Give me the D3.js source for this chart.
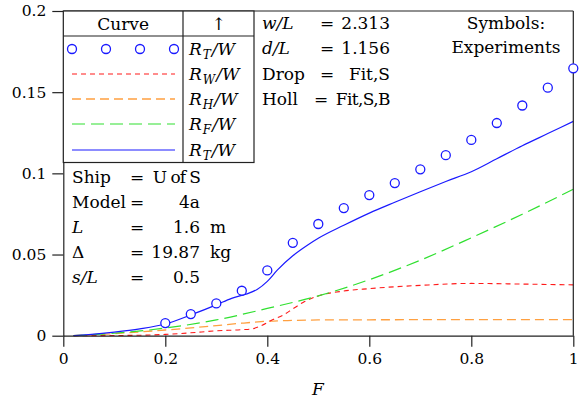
<!DOCTYPE html>
<html><head><meta charset="utf-8">
<script src="https://cdn.jsdelivr.net/npm/d3@7"></script>
<style>
body{margin:0;background:#fff}
svg{display:block}
text{font-family:"DejaVu Serif",serif;fill:#000}
</style>
</head><body>
<svg id="c" width="583" height="405"></svg>
<script>
// ---- data ----
const xTicks = [0, 0.2, 0.4, 0.6, 0.8, 1];
const xTickLabels = ["0", "0.2", "0.4", "0.6", "0.8", "1"];
const yTicks = [0, 0.05, 0.1, 0.15, 0.2];
const yTickLabels = ["0", "0.05", "0.1", "0.15", "0.2"];

// experiments R_T/W
const expF  = [0.2, 0.25, 0.3, 0.35, 0.4, 0.45, 0.5, 0.55, 0.6, 0.65, 0.7, 0.75, 0.8, 0.85, 0.9, 0.95, 1.0];
const expRT = [0.0078, 0.0133, 0.0199, 0.0277, 0.0402, 0.0572, 0.0688, 0.0786, 0.0866, 0.0940, 0.1025, 0.1112, 0.1206, 0.1310, 0.1418, 0.1528, 0.1647];

// theory R_T/W
const rtF = [0.02, 0.05, 0.1, 0.15, 0.2, 0.25, 0.3, 0.33, 0.36, 0.38, 0.4, 0.42, 0.45, 0.48, 0.5, 0.55, 0.6, 0.65, 0.7, 0.75, 0.8, 0.85, 0.9, 0.95, 1.0];
const rtV = [0, 0.0007, 0.0022, 0.0042, 0.0072, 0.0128, 0.019, 0.023, 0.0258, 0.0285, 0.0335, 0.0405, 0.0492, 0.0560, 0.0600, 0.0680, 0.0755, 0.0822, 0.0887, 0.0950, 0.1010, 0.1090, 0.1170, 0.1245, 0.1320];

// R_W/W
const rwF = [0.02, 0.1, 0.15, 0.2, 0.25, 0.3, 0.35, 0.37, 0.39, 0.41, 0.43, 0.45, 0.47, 0.5, 0.55, 0.6, 0.7, 0.8, 0.9, 1.0];
const rwV = [0, 0.0001, 0.0003, 0.0008, 0.0018, 0.003, 0.0037, 0.0042, 0.0065, 0.0098, 0.0125, 0.0165, 0.0205, 0.0245, 0.0275, 0.029, 0.031, 0.0322, 0.0318, 0.0313];

// R_H/W
const rhF = [0.02, 0.1, 0.2, 0.3, 0.35, 0.4, 0.45, 0.5, 0.6, 0.8, 1.0];
const rhV = [0, 0.0013, 0.0035, 0.0062, 0.0077, 0.0089, 0.0094, 0.0097, 0.0098, 0.0099, 0.0099];

// R_F/W
const rfF = [0.02, 0.1, 0.2, 0.3, 0.4, 0.5, 0.6, 0.7, 0.8, 0.9, 1.0];
const rfV = [0, 0.0015, 0.0047, 0.0097, 0.0168, 0.0245, 0.0345, 0.0465, 0.0603, 0.0748, 0.0902];

// info texts
const infoLeftLabels = ["Ship", "Model", "L", "Δ", "s/L"];
const infoLeftValues = ["U of S", "4a", "1.6", "19.87", "0.5"];
const infoLeftUnits  = ["", "", "m", "kg", ""];
const infoRightLabels = ["w/L", "d/L", "Drop", "Holl"];
const infoRightValues = ["2.313", "1.156", "Fit,S", "Fit,S,B"];

// ---- chart ----
const svg = d3.select("#c");
const X0 = 63.3, X1 = 573.3, Y0 = 335.7, Y1 = 11;
const FS = "17px";
const x = d3.scaleLinear().domain([0, 1]).range([X0, X1]);
const y = d3.scaleLinear().domain([0, 0.2]).range([Y0, Y1]);

const styles = {
  rw: {color: "#ff1a1a", dash: "5,4", w: 1.1},
  rh: {color: "#ffa040", dash: "9,5", w: 1.3},
  rf: {color: "#30e030", dash: "13,6", w: 1.2},
  rt: {color: "#1a1aff", dash: null, w: 1.2}
};

const line = d3.line().x(d => x(d[0])).y(d => y(d[1])).curve(d3.curveMonotoneX);
function drawCurve(F, V, st) {
  svg.append("path")
    .attr("d", line(F.map((f, i) => [f, V[i]])))
    .attr("fill", "none")
    .attr("stroke", st.color)
    .attr("stroke-width", st.w)
    .attr("stroke-dasharray", st.dash);
}
drawCurve(rhF, rhV, styles.rh);
drawCurve(rwF, rwV, styles.rw);
drawCurve(rfF, rfV, styles.rf);
drawCurve(rtF, rtV, styles.rt);

// frame
svg.append("line").attr("x1", X0).attr("x2", X1).attr("y1", Y1).attr("y2", Y1).attr("stroke", "#222").attr("stroke-width", 1.2);
svg.append("line").attr("x1", X1).attr("x2", X1).attr("y1", Y1).attr("y2", Y0).attr("stroke", "#222").attr("stroke-width", 1.2);

// axes
const xAxis = d3.axisBottom(x).tickValues(xTicks).tickFormat((d, i) => xTickLabels[i]).tickSize(11).tickSizeOuter(0).tickPadding(6);
const yAxis = d3.axisLeft(y).tickValues(yTicks).tickFormat((d, i) => yTickLabels[i]).tickSize(11).tickSizeOuter(0).tickPadding(6);
const gx = svg.append("g").attr("transform", `translate(0,${Y0})`).call(xAxis);
const gy = svg.append("g").attr("transform", `translate(${X0},0)`).call(yAxis);
[gx, gy].forEach(g => {
  g.selectAll("path").attr("stroke", "#222").attr("stroke-width", 1.2);
  g.selectAll("line").attr("stroke", "#222").attr("stroke-width", 1.2);
  g.selectAll("text").style("font-family", "DejaVu Serif").style("font-size", "15.5px").attr("fill", "#000");
});

// experiment circles
svg.append("g").selectAll("circle").data(expF).join("circle")
  .attr("cx", d => x(d)).attr("cy", (d, i) => y(expRT[i])).attr("r", 4.5)
  .attr("fill", "#fff").attr("stroke", styles.rt.color).attr("stroke-width", 1.3);

svg.append("text").attr("x", 318).attr("y", 389).attr("dy", "0.35em").attr("text-anchor", "middle")
  .style("font-size", FS).style("font-style", "italic").text("F");

// legend box
const LB = {x0: X0, x1: 254, xd: 183, y0: Y1, yh: 36, y1: 162.5};
const lg = svg.append("g");
lg.append("rect").attr("x", LB.x0).attr("y", LB.y0).attr("width", LB.x1 - LB.x0).attr("height", LB.y1 - LB.y0)
  .attr("fill", "#fff").attr("stroke", "#222").attr("stroke-width", 1.2);
lg.append("line").attr("x1", LB.x0).attr("x2", LB.x1).attr("y1", LB.yh).attr("y2", LB.yh).attr("stroke", "#222").attr("stroke-width", 1.2);
lg.append("line").attr("x1", LB.xd).attr("x2", LB.xd).attr("y1", LB.y0).attr("y2", LB.y1).attr("stroke", "#222").attr("stroke-width", 1.2);
lg.append("text").attr("x", (LB.x0 + LB.xd) / 2).attr("y", 24).attr("dy", "0.35em").attr("text-anchor", "middle").style("font-size", FS).text("Curve");
lg.append("text").attr("x", (LB.xd + LB.x1) / 2).attr("y", 24).attr("dy", "0.35em").attr("text-anchor", "middle").style("font-size", FS).text("↑");

const legendRows = [
  {sub: "T", st: styles.rt, sym: true},
  {sub: "W", st: styles.rw},
  {sub: "H", st: styles.rh},
  {sub: "F", st: styles.rf},
  {sub: "T", st: styles.rt}
];
const rowY = [49, 74, 99, 124, 150];
legendRows.forEach((r, i) => {
  const yy = rowY[i];
  if (r.sym) {
    [72, 106, 140, 174].forEach(cx => lg.append("circle").attr("cx", cx).attr("cy", yy).attr("r", 4.5)
      .attr("fill", "#fff").attr("stroke", r.st.color).attr("stroke-width", 1.3));
  } else {
    lg.append("line").attr("x1", 72).attr("x2", 175).attr("y1", yy).attr("y2", yy)
      .attr("stroke", r.st.color).attr("stroke-width", r.st.w).attr("stroke-dasharray", r.st.dash);
  }
  const t = lg.append("text").attr("x", 189).attr("y", yy).attr("dy", "0.35em").style("font-size", FS).style("font-style", "italic");
  t.append("tspan").text("R");
  t.append("tspan").attr("dx", 1).attr("dy", 4).style("font-size", "12px").text(r.sub);
  t.append("tspan").attr("dx", 1).attr("dy", -4).text("/W");
});

// right info texts
const rY = [23, 48, 74, 99];
infoRightLabels.forEach((lab, i) => {
  const it = lab.includes("/");
  svg.append("text").attr("x", 262).attr("y", rY[i]).attr("dy", "0.35em").style("font-size", FS)
    .style("font-style", it ? "italic" : "normal").text(lab);
  svg.append("text").attr("x", i === 3 ? 321 : 327).attr("y", rY[i]).attr("dy", "0.35em").attr("text-anchor", "middle").style("font-size", FS).text("=");
  svg.append("text").attr("x", 390).attr("y", rY[i]).attr("dy", "0.35em").attr("text-anchor", "end").style("font-size", FS)
    .attr("letter-spacing", i === 3 ? "-0.6px" : null).text(infoRightValues[i]);
});
svg.append("text").attr("x", 506).attr("y", 23).attr("dy", "0.35em").attr("text-anchor", "middle").style("font-size", FS).text("Symbols:");
svg.append("text").attr("x", 506).attr("y", 47).attr("dy", "0.35em").attr("text-anchor", "middle").style("font-size", FS).text("Experiments");

// left info
const lY = [177, 202, 227, 252, 277];
infoLeftLabels.forEach((lab, i) => {
  const it = (lab === "L" || lab === "s/L");
  svg.append("text").attr("x", 72).attr("y", lY[i]).attr("dy", "0.35em").style("font-size", FS)
    .style("font-style", it ? "italic" : "normal").text(lab);
  svg.append("text").attr("x", 137).attr("y", lY[i]).attr("dy", "0.35em").attr("text-anchor", "middle").style("font-size", FS).text("=");
  svg.append("text").attr("x", 200).attr("y", lY[i]).attr("dy", "0.35em").attr("text-anchor", "end").style("font-size", FS)
    .attr("letter-spacing", i === 0 ? "-1px" : null).text(infoLeftValues[i]);
  if (infoLeftUnits[i]) svg.append("text").attr("x", 210).attr("y", lY[i]).attr("dy", "0.35em").style("font-size", FS).text(infoLeftUnits[i]);
});
</script>
</body></html>
